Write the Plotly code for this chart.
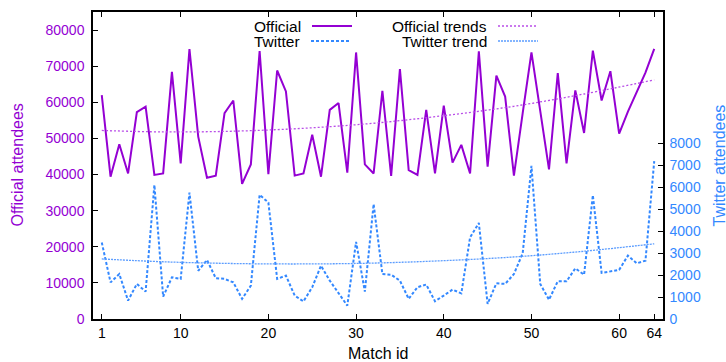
import plotly.graph_objects as go

# ---------------- data ----------------
match_id = list(range(1, 65))

official = [62000, 39400, 48400, 40300, 57300, 58800, 39900, 40300, 68400, 43100,
            74700, 50500, 39100, 39700, 57000, 60500, 37400, 42800, 74200, 40100,
            68800, 63000, 39700, 40300, 51000, 39400, 57900, 59800, 40500, 73800,
            42800, 40300, 63200, 39600, 69200, 41200, 39900, 57900, 40300, 59100,
            43300, 48200, 40300, 74100, 42200, 67400, 61600, 39700, 57000, 73800,
            57600, 41400, 68100, 43100, 63300, 51500, 74300, 60500, 68600, 51300,
            57400, 63000, 68200, 74800]

twitter = [3490, 1670, 2050, 840, 1600, 1250, 6110, 1020, 1900, 1830,
           5760, 2200, 2690, 1860, 1830, 1670, 920, 1520, 5660, 5310,
           1830, 1980, 1070, 800, 1450, 2430, 1750, 1150, 610, 3520,
           1250, 5240, 2050, 2020, 1750, 920, 1450, 1570, 810, 1070,
           1340, 1170, 3720, 4380, 690, 1630, 1600, 2050, 3000, 6980,
           1600, 880, 1720, 1720, 2310, 2020, 5640, 2100, 2160, 2240,
           2890, 2540, 2660, 7200]

trend_x = [1, 8, 16, 24, 32, 40, 48, 56, 64]
official_trend = [52200, 51800, 52000, 52800, 54200, 56300, 58900, 62300, 66200]
twitter_trend = [2740, 2610, 2530, 2510, 2550, 2660, 2830, 3090, 3430]

x_ticks = [1, 10, 20, 30, 40, 50, 60, 64]
left_ticks = list(range(0, 80001, 10000))
right_ticks = list(range(0, 8001, 1000))

legend_labels = ["Official", "Twitter", "Official trends", "Twitter trend"]

# ---------------- styling ----------------
PURPLE = "#9400D3"
PURPLE_LIGHT = "#b94ee8"
BLUE = "#3388FF"
BLUE_LIGHT = "#5c9dff"
FONT = "Liberation Sans, Arial, sans-serif"

W, H = 726, 362
L, R, T, B = 93, 663, 12, 319


def px(x):
    return (x - L) / (R - L)


def py(y):
    return (B - y) / (B - T)


fig = go.Figure()
fig.add_trace(go.Scatter(x=match_id, y=official, mode="lines", yaxis="y",
                         line=dict(color=PURPLE, width=2), showlegend=False))
fig.add_trace(go.Scatter(x=trend_x, y=official_trend, mode="lines", yaxis="y",
                         line=dict(color=PURPLE_LIGHT, width=1.3, dash="2px,2px", shape="spline"),
                         showlegend=False))
fig.add_trace(go.Scatter(x=match_id, y=twitter, mode="lines", yaxis="y2",
                         line=dict(color=BLUE, width=2, dash="3px,2px"), showlegend=False))
fig.add_trace(go.Scatter(x=trend_x, y=twitter_trend, mode="lines", yaxis="y2",
                         line=dict(color=BLUE_LIGHT, width=1.3, dash="2px,1px", shape="spline"),
                         showlegend=False))

# ---------------- custom legend (gnuplot style: text then sample) ----------------
annotations = []
shapes = []
legend_rows = [
    (legend_labels[0], 303, 26, dict(color=PURPLE, width=2)),
    (legend_labels[1], 302, 41, dict(color=BLUE, width=2, dash="3px,2px")),
    (legend_labels[2], 489, 26, dict(color=PURPLE_LIGHT, width=1.3, dash="2px,2px")),
    (legend_labels[3], 489, 41, dict(color=BLUE_LIGHT, width=1.3, dash="2px,1px")),
]
for label, xr, yc, ln in legend_rows:
    annotations.append(dict(text=label, xref="paper", yref="paper", x=px(xr), y=py(yc),
                            xanchor="right", yanchor="middle", showarrow=False,
                            font=dict(family=FONT, size=15.5, color="black")))
    x0 = xr + 9
    shapes.append(dict(type="line", xref="paper", yref="paper",
                       x0=px(x0), x1=px(x0 + 40), y0=py(yc), y1=py(yc), line=ln))

annotations.append(dict(text="Official attendees", xref="paper", yref="paper",
                        x=px(17), y=0.5, xanchor="center", yanchor="middle", textangle=-90,
                        showarrow=False, font=dict(family=FONT, size=16, color=PURPLE)))
annotations.append(dict(text="Twitter attendees", xref="paper", yref="paper",
                        x=px(719), y=0.5, xanchor="center", yanchor="middle", textangle=-90,
                        showarrow=False, font=dict(family=FONT, size=16, color=BLUE)))
annotations.append(dict(text="Match id", xref="paper", yref="paper",
                        x=px(378), y=py(353), xanchor="center", yanchor="middle",
                        showarrow=False, font=dict(family=FONT, size=16, color="black")))

fig.update_layout(
    width=W, height=H,
    margin=dict(l=L, r=W - R, t=T, b=H - B, autoexpand=False),
    paper_bgcolor="white", plot_bgcolor="white",
    font=dict(family=FONT, size=14, color="black"),
    xaxis=dict(range=[0, 65], tickvals=x_ticks, ticktext=[str(v) for v in x_ticks],
               ticks="inside", ticklen=5, tickcolor="black", tickwidth=1,
               showline=True, linecolor="black", linewidth=1.5, mirror="ticks",
               showgrid=False, zeroline=False,
               tickfont=dict(family=FONT, size=14, color="black")),
    yaxis=dict(range=[0, 85000], tickvals=left_ticks, ticktext=[str(v) for v in left_ticks],
               ticks="inside", ticklen=5, tickcolor="black", tickwidth=1,
               showline=True, linecolor="black", linewidth=1.5, mirror=False,
               showgrid=False, zeroline=False, ticklabelstandoff=4,
               tickfont=dict(family=FONT, size=14, color=PURPLE)),
    yaxis2=dict(range=[0, 14000], tickvals=right_ticks, ticktext=[str(v) for v in right_ticks],
                overlaying="y", side="right",
                ticks="inside", ticklen=5, tickcolor="black", tickwidth=1,
                showline=True, linecolor="black", linewidth=1.5,
                showgrid=False, zeroline=False, ticklabelstandoff=2,
                tickfont=dict(family=FONT, size=14, color=BLUE)),
    annotations=annotations,
    shapes=shapes,
)

fig.write_html("out.html", config={"displayModeBar": False},
               post_script="document.body.style.margin='0';document.body.style.overflow='hidden';")
